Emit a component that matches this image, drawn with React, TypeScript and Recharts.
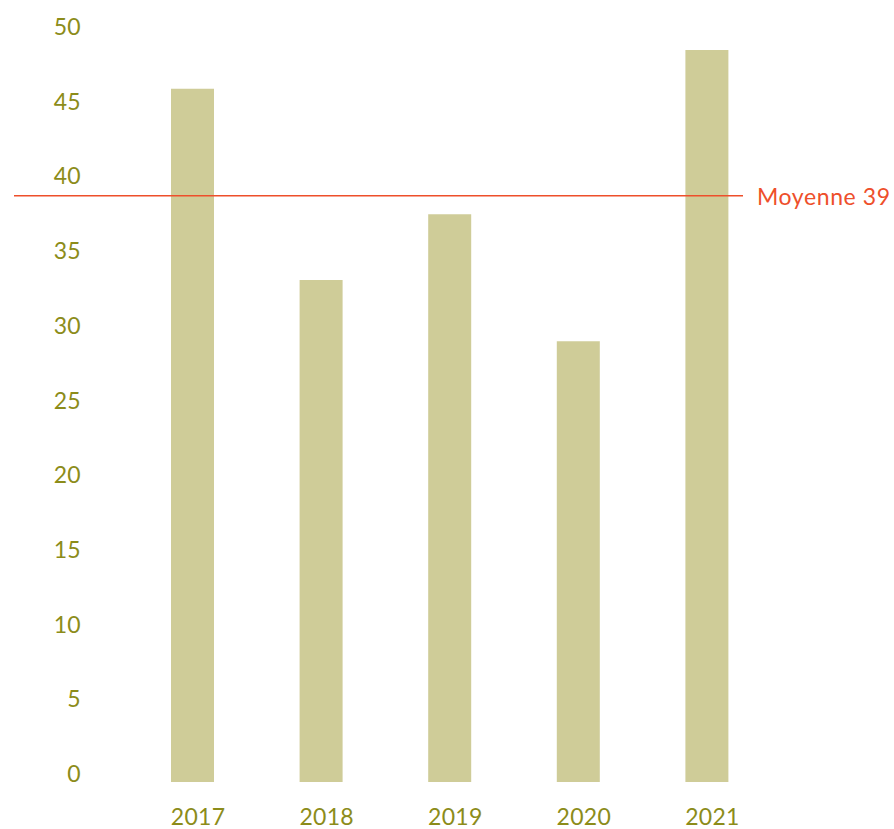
import { Bar, BarChart, ReferenceLine, XAxis, YAxis } from "recharts";

const YEARS = ["2017", "2018", "2019", "2020", "2021"];
const VALUES = [46.4, 33.6, 38.0, 29.5, 49.0];
const Y_TICKS = [0, 5, 10, 15, 20, 25, 30, 35, 40, 45, 50];

const BAR = "#cfcc98";
const TEXT = "#8c8c1a";
const AVG = "#ee4f2b";
const FONT = "Lato, 'Open Sans', sans-serif";
const BAR_SIZE = 43;

const rows = YEARS.map((year, i) => ({ year, value: VALUES[i] }));
const mean = VALUES.reduce((a, b) => a + b, 0) / VALUES.length;

function YTick({ x, y, payload }: any) {
  return (
    <text x={x} y={y} textAnchor="end" fill={TEXT} fontSize={23} fontFamily={FONT} letterSpacing={0.3}>
      {payload.value}
    </text>
  );
}

// year labels sit flush with the left edge of their bar
function XTick({ x, y, payload }: any) {
  return (
    <text x={x - BAR_SIZE / 2} y={y + 35} textAnchor="start" fill={TEXT} fontSize={23} fontFamily={FONT} letterSpacing={0.3}>
      {payload.value}
    </text>
  );
}

// average line runs out past the axis on the left and stops short on the right
function AvgLine({ x1, x2, y1 }: any) {
  return (
    <g>
      <line x1={x1 - 75} x2={x2 - 28} y1={y1 + 1} y2={y1 + 1} stroke={AVG} strokeWidth={1.5} />
      <text x={x2 - 14} y={y1 + 10} fill={AVG} fontSize={23} fontFamily={FONT} letterSpacing={0.6}>
        {`Moyenne ${Math.round(mean)}`}
      </text>
    </g>
  );
}

export default function App() {
  return (
    <div style={{ position: "absolute", left: 0, top: 0, background: "#fff" }}>
      <BarChart
        width={894}
        height={829}
        data={rows}
        barSize={BAR_SIZE}
        margin={{ top: 35, right: 123, bottom: 0, left: 0 }}
      >
        <XAxis
          dataKey="year"
          height={47}
          axisLine={false}
          tickLine={false}
          padding={{ left: 39, right: 0 }}
          tick={<XTick />}
        />
        <YAxis
          width={89}
          domain={[0, 50]}
          ticks={Y_TICKS}
          axisLine={false}
          tickLine={false}
          tick={<YTick />}
        />
        <Bar dataKey="value" fill={BAR} isAnimationActive={false} />
        <ReferenceLine y={mean} shape={<AvgLine />} />
      </BarChart>
    </div>
  );
}
